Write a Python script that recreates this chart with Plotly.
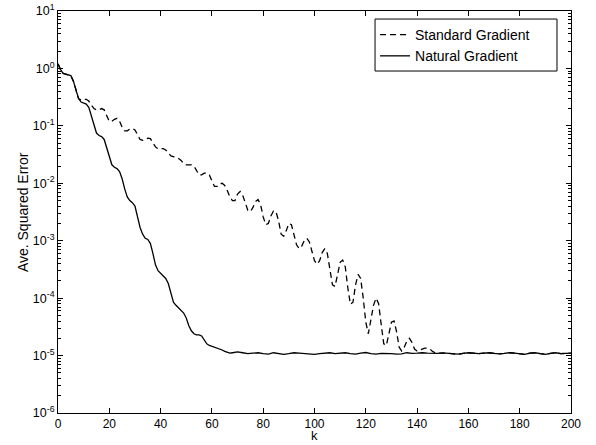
import plotly.graph_objects as go

# ---- data ----
# Natural gradient: k = 0..70 (step 1)
K_NAT_A = list(range(0, 71))
NAT_A = [1.2, 0.95, 0.82, 0.80, 0.79, 0.75, 0.60, 0.42, 0.30, 0.26,
         0.25, 0.24, 0.21, 0.15, 0.10, 0.075, 0.068, 0.065, 0.058, 0.042,
         0.028, 0.021, 0.019, 0.018, 0.016, 0.012, 0.0080, 0.0058, 0.0050, 0.0046,
         0.0040, 0.0027, 0.0017, 0.0013, 0.0011, 0.00105, 0.00090, 0.00060, 0.00038, 0.00030,
         0.00027, 0.00025, 0.00022, 0.00018, 0.00012, 8.5e-5, 7.5e-5, 6.8e-5, 6.2e-5, 5.5e-5,
         4.5e-5, 3.3e-5, 2.7e-5, 2.4e-5, 2.3e-5, 2.3e-5, 2.2e-5, 1.9e-5, 1.6e-5, 1.5e-5,
         1.45e-5, 1.4e-5, 1.35e-5, 1.3e-5, 1.25e-5, 1.18e-5, 1.13e-5, 1.10e-5, 1.12e-5, 1.15e-5,
         1.16e-5]
# Natural gradient floor: k = 72..200 (step 2)
K_NAT_B = list(range(72, 201, 2))
NAT_B = [1.12e-5, 1.08e-5, 1.10e-5, 1.12e-5, 1.08e-5, 1.06e-5, 1.12e-5, 1.10e-5, 1.05e-5, 1.08e-5,
         1.12e-5, 1.10e-5, 1.08e-5, 1.06e-5, 1.05e-5, 1.08e-5, 1.10e-5, 1.12e-5, 1.08e-5, 1.09e-5,
         1.12e-5, 1.08e-5, 1.06e-5, 1.10e-5, 1.13e-5, 1.08e-5, 1.06e-5, 1.09e-5, 1.10e-5, 1.08e-5,
         1.06e-5, 1.07e-5, 1.12e-5, 1.09e-5, 1.10e-5, 1.12e-5, 1.10e-5, 1.08e-5, 1.09e-5, 1.11e-5,
         1.10e-5, 1.07e-5, 1.06e-5, 1.09e-5, 1.12e-5, 1.10e-5, 1.08e-5, 1.10e-5, 1.12e-5, 1.09e-5,
         1.07e-5, 1.09e-5, 1.12e-5, 1.10e-5, 1.07e-5, 1.05e-5, 1.10e-5, 1.12e-5, 1.08e-5, 1.05e-5,
         1.09e-5, 1.12e-5, 1.08e-5, 1.10e-5, 1.10e-5]

# Standard gradient: k = 0..150 (step 1)
K_STD_A = list(range(0, 151))
STD_A = [1.2, 0.95, 0.82, 0.80, 0.79, 0.75, 0.60, 0.42, 0.30, 0.28,
         0.29, 0.29, 0.27, 0.23, 0.20, 0.19, 0.19, 0.20, 0.19, 0.15,
         0.12, 0.12, 0.13, 0.135, 0.12, 0.095, 0.082, 0.082, 0.088, 0.090,
         0.085, 0.070, 0.058, 0.056, 0.059, 0.061, 0.060, 0.052, 0.043, 0.040,
         0.040, 0.040, 0.038, 0.033, 0.030, 0.029, 0.028, 0.027, 0.025, 0.022,
         0.021, 0.021, 0.021, 0.020, 0.017, 0.014, 0.014, 0.015, 0.015, 0.014,
         0.011, 0.0088, 0.0088, 0.0098, 0.010, 0.0092, 0.0075, 0.0058, 0.0050, 0.0050,
         0.0065, 0.0072, 0.0062, 0.0045, 0.0034, 0.0032, 0.0038, 0.0048, 0.0052, 0.0042,
         0.0026, 0.0019, 0.0020, 0.0027, 0.0033, 0.0032, 0.0022, 0.0013, 0.0012, 0.0015,
         0.0020, 0.0019, 0.0013, 0.00085, 0.00073, 0.00080, 0.00100, 0.00110, 0.00095, 0.00065,
         0.00045, 0.00039, 0.00045, 0.00062, 0.00073, 0.00060, 0.00032, 0.00017, 0.00016, 0.00026,
         0.00042, 0.00046, 0.00035, 0.00015, 7.8e-5, 8.5e-5, 0.00017, 0.00026, 0.00022, 0.00010,
         3.8e-5, 2.4e-5, 4.0e-5, 7.5e-5, 1.0e-4, 8.0e-5, 3.5e-5, 1.6e-5, 1.5e-5, 2.4e-5,
         3.8e-5, 4.0e-5, 2.6e-5, 1.4e-5, 1.2e-5, 1.4e-5, 1.8e-5, 2.0e-5, 1.7e-5, 1.3e-5,
         1.2e-5, 1.25e-5, 1.3e-5, 1.35e-5, 1.35e-5, 1.3e-5, 1.18e-5, 1.12e-5, 1.10e-5, 1.10e-5,
         1.11e-5]
# Standard gradient floor: k = 152..200 (step 2)
K_STD_B = list(range(152, 201, 2))
STD_B = [1.10e-5, 1.07e-5, 1.06e-5, 1.09e-5, 1.12e-5, 1.10e-5, 1.08e-5, 1.10e-5, 1.12e-5, 1.09e-5,
         1.07e-5, 1.09e-5, 1.12e-5, 1.10e-5, 1.07e-5, 1.05e-5, 1.10e-5, 1.12e-5, 1.08e-5, 1.05e-5,
         1.09e-5, 1.12e-5, 1.08e-5, 1.10e-5, 1.10e-5]

SERIES_NAMES = ["Standard Gradient", "Natural Gradient"]
X_TICKS = [0, 20, 40, 60, 80, 100, 120, 140, 160, 180, 200]
Y_EXPONENTS = [-6, -5, -4, -3, -2, -1, 0, 1]
X_TITLE = "k"
Y_TITLE = "Ave. Squared Error"

FONT = "Liberation Sans, Arial, Helvetica, sans-serif"

fig = go.Figure()
fig.add_trace(go.Scatter(
    x=K_STD_A + K_STD_B, y=STD_A + STD_B, mode="lines", name=SERIES_NAMES[0],
    line=dict(color="black", width=1.3, dash="6px,4px"),
))
fig.add_trace(go.Scatter(
    x=K_NAT_A + K_NAT_B, y=NAT_A + NAT_B, mode="lines", name=SERIES_NAMES[1],
    line=dict(color="black", width=1.3),
))

y_tickvals = [10.0 ** e for e in Y_EXPONENTS]
y_ticktext = ["10<sup>%d</sup>" % e for e in Y_EXPONENTS]
minor_vals = [m * 10.0 ** e for e in Y_EXPONENTS[:-1] for m in range(2, 10)]

# legend frame (paper coordinates)
LEG_X0, LEG_X1, LEG_Y0, LEG_Y1 = 0.618, 0.9727, 0.8507, 0.98

fig.update_layout(
    width=596, height=445,
    margin=dict(l=58, r=25, t=11, b=32),
    paper_bgcolor="white", plot_bgcolor="white",
    font=dict(family=FONT, size=12, color="black"),
    showlegend=True,
    legend=dict(
        x=LEG_X0, y=LEG_Y1, xanchor="left", yanchor="top",
        bgcolor="rgba(0,0,0,0)", borderwidth=0,
        font=dict(family=FONT, size=14, color="black"),
        tracegroupgap=0, itemwidth=30,
    ),
    shapes=[dict(
        type="rect", xref="paper", yref="paper",
        x0=LEG_X0, x1=LEG_X1, y0=LEG_Y0, y1=LEG_Y1,
        line=dict(color="black", width=1), fillcolor="white", layer="above",
        opacity=1,
    )],
    xaxis=dict(
        range=[0, 200], tickvals=X_TICKS, ticks="inside", ticklen=5,
        tickcolor="black", showline=True, linecolor="black", linewidth=1,
        mirror="ticks", showgrid=False, zeroline=False, automargin=False,
        tickfont=dict(size=12),
    ),
    yaxis=dict(
        type="log", range=[-6, 1], tickvals=y_tickvals, ticktext=y_ticktext,
        ticks="inside", ticklen=5, tickcolor="black",
        showline=True, linecolor="black", linewidth=1, mirror="ticks",
        showgrid=False, zeroline=False, automargin=False, tickfont=dict(size=12.5),
        minor=dict(tickvals=minor_vals, ticks="inside", ticklen=3,
                   tickcolor="black", showgrid=False),
    ),
    annotations=[
        dict(text=X_TITLE, xref="paper", yref="paper", x=0.5, y=-0.0796,
             xanchor="center", yanchor="bottom", showarrow=False,
             font=dict(family=FONT, size=13, color="black")),
        dict(text=Y_TITLE, xref="paper", yref="paper", x=-0.068, y=0.5,
             xanchor="center", yanchor="middle", showarrow=False, textangle=-90,
             font=dict(family=FONT, size=14, color="black")),
    ],
)

fig.write_html("out.html", config={"displayModeBar": False},
               post_script="document.body.style.margin='0';")
